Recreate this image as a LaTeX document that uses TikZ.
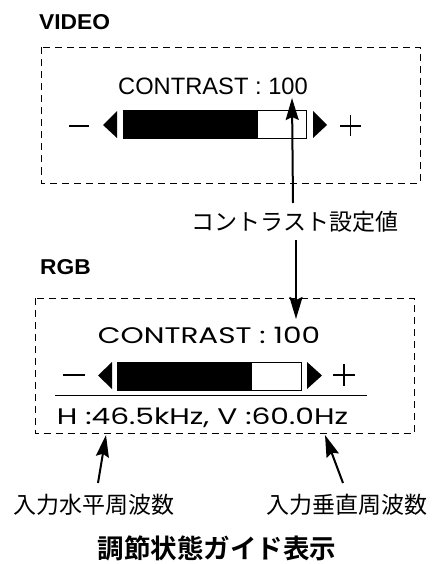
\documentclass[tikz,border=0pt]{standalone}
\usepackage{fontspec}
\setmainfont{Liberation Sans}
\newfontfamily\jpfont{Noto Sans CJK JP}
\newfontfamily\jpbold{Noto Sans CJK JP Bold}
\newfontfamily\geofont{Poppins}
\usetikzlibrary{arrows.meta}
\begin{document}
\begin{tikzpicture}[x=1pt,y=-1pt,
  dbox/.style={draw,dashed,dash pattern=on 7pt off 5pt,line width=0.9pt},
  tri/.style={fill=black,draw=none},
  bar/.style={draw,line width=1pt},
  pm/.style={line width=1.1pt},
  pointer/.style={line width=2pt,-{Stealth[length=22pt,width=13pt,inset=3pt]}},
  hdr/.style={font=\bfseries\fontsize{21.5}{23}\selectfont,anchor=base west,inner sep=0pt},
  geo/.style={font=\geofont\fontsize{22.5}{26}\selectfont,inner sep=0pt,anchor=base},
  jp/.style={font=\jpfont\fontsize{23}{26}\selectfont,inner sep=0pt,anchor=base}]
\useasboundingbox (0,0) rectangle (432,564);
% VIDEO section
\node[hdr] (vlab) at (39,30) {\scalebox{1.06}[1]{VIDEO}};
\draw[dbox] (41.5,47.5) rectangle (420,183);
\node[font=\fontsize{23.7}{26}\selectfont,inner sep=0pt,anchor=base] (vcon) at (213,95) {CONTRAST : 100};
\draw[pm] (69,126) -- (89,126);
\fill[tri] (103,125) -- (117,111) -- (117,138) -- cycle;
\fill[black] (123,111) rectangle (258,139);
\draw[bar] (123,111) rectangle (306,139);
\fill[tri] (313,111) -- (327,125) -- (313,138) -- cycle;
\draw[pm] (340,126) -- (361,126) (350.5,115) -- (350.5,136);
% label
\node[jp] (set) at (295,230) {コントラスト設定値};
\coordinate (a1s) at (293,203);
\coordinate (a1e) at (292,98);
\draw[pointer] (a1s) -- (a1e);
\coordinate (a2s) at (296,240);
\coordinate (a2e) at (296,319);
\draw[pointer] (a2s) -- (a2e);
% RGB section
\node[hdr] (rlab) at (40,274) {\scalebox{1.06}[1]{RGB}};
\draw[dbox] (35,298) rectangle (414,433.5);
\node[geo] (rcon) at (209,343) {\scalebox{1.31}[1]{CONTRAST : 100}};
\draw[pm] (63,375) -- (85,375);
\fill[tri] (98,375.5) -- (112,362) -- (112,389) -- cycle;
\fill[black] (117,362) rectangle (252,390);
\draw[bar] (117,362) rectangle (301,390);
\fill[tri] (307,362) -- (322,375.5) -- (307,389) -- cycle;
\draw[pm] (333,375) -- (355,375) (344,364) -- (344,386);
\draw[line width=1pt] (55,395) -- (367,395);
\node[geo] (freq) at (202.5,424) {\scalebox{1.32}[1]{H :46.5kHz, V :60.0Hz}};
% bottom labels
\node[jp] (hl) at (93.5,513) {入力水平周波数};
\node[jp] (vl) at (346.5,513) {入力垂直周波数};
\coordinate (b1s) at (98,483);
\coordinate (b1e) at (106,435);
\coordinate (b2s) at (343,483);
\coordinate (b2e) at (325,435);
\draw[pointer] (b1s) -- (b1e);
\draw[pointer] (b2s) -- (b2e);
\node[font=\jpbold\fontsize{26.5}{30}\selectfont,inner sep=0pt,anchor=base] (title) at (217,558) {調節状態ガイド表示};
\end{tikzpicture}
\end{document}
